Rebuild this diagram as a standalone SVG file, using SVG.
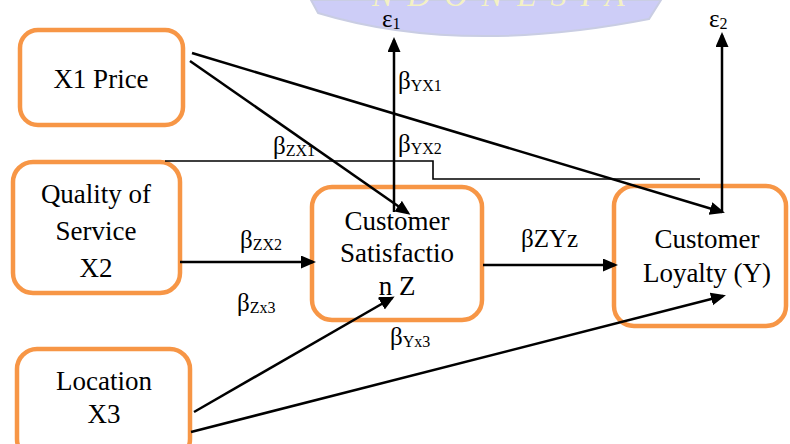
<svg xmlns="http://www.w3.org/2000/svg" width="790" height="444" viewBox="0 0 790 444">
  <defs>
    <marker id="head" markerUnits="userSpaceOnUse" markerWidth="16" markerHeight="14" refX="12" refY="6.5" orient="auto">
      <path d="M0,0 L15,6.5 L0,13 z" fill="#000"/>
    </marker>
  </defs>

  <rect width="790" height="444" fill="#ffffff"/>

  <!-- background seal, clipped at the top edge -->
  <g id="seal">
    <path d="M311,0 L318,13 Q460,56 649,19 L661,0 Z" fill="#cdcdf7" stroke="#c9cde3" stroke-width="2"/>
    <text font-family="serif" font-size="32" font-style="italic" fill="#f3f1c4" x="372" y="6" letter-spacing="14">NDONESIA</text>
  </g>

  <!-- nodes: white rounded boxes with orange outline -->
  <g fill="#ffffff" stroke="#f79646" stroke-width="4.5">
    <g id="x1-price">
      <rect x="20" y="30" width="163" height="95" rx="18"/>
      <text font-family="serif" font-size="27" text-anchor="middle" fill="#000" stroke="none" x="101" y="88">X1 Price</text>
    </g>
    <g id="x2-quality">
      <rect x="13" y="162" width="167" height="131" rx="20"/>
      <text font-family="serif" font-size="27" text-anchor="middle" fill="#000" stroke="none" x="96" y="203">Quality of</text>
      <text font-family="serif" font-size="27" text-anchor="middle" fill="#000" stroke="none" x="96" y="240">Service</text>
      <text font-family="serif" font-size="27" text-anchor="middle" fill="#000" stroke="none" x="96" y="277">X2</text>
    </g>
    <g id="z-satisfaction">
      <rect x="312" y="187" width="170" height="133" rx="20"/>
      <text font-family="serif" font-size="27" text-anchor="middle" fill="#000" stroke="none" x="397" y="230">Customer</text>
      <text font-family="serif" font-size="27" text-anchor="middle" fill="#000" stroke="none" x="397" y="262">Satisfactio</text>
      <text font-family="serif" font-size="27" text-anchor="middle" fill="#000" stroke="none" x="397" y="295"><tspan text-decoration="underline">n</tspan> Z</text>
    </g>
    <g id="y-loyalty">
      <rect x="614" y="186" width="172" height="140" rx="20"/>
      <text font-family="serif" font-size="27" text-anchor="middle" fill="#000" stroke="none" x="707" y="248">Customer</text>
      <text font-family="serif" font-size="27" text-anchor="middle" fill="#000" stroke="none" x="707" y="282">Loyalty (Y)</text>
    </g>
    <g id="x3-location">
      <rect x="17" y="349" width="173" height="110" rx="20"/>
      <text font-family="serif" font-size="27" text-anchor="middle" fill="#000" stroke="none" x="104" y="390">Location</text>
      <text font-family="serif" font-size="27" text-anchor="middle" fill="#000" stroke="none" x="104" y="423">X3</text>
    </g>
  </g>

  <!-- connectors -->
  <g id="connectors" stroke="#000" stroke-width="2.5" fill="none">
    <line marker-end="url(#head)" x1="190" y1="61" x2="408" y2="213"/>
    <line marker-end="url(#head)" x1="192" y1="53" x2="722" y2="212"/>
    <line marker-end="url(#head)" x1="180" y1="262" x2="313" y2="262"/>
    <line marker-end="url(#head)" x1="483" y1="265" x2="615" y2="265"/>
    <line marker-end="url(#head)" x1="194" y1="412" x2="392" y2="298"/>
    <line marker-end="url(#head)" x1="191" y1="432" x2="723" y2="296"/>
    <line marker-end="url(#head)" x1="394" y1="212" x2="394" y2="40"/>
    <line marker-end="url(#head)" x1="722" y1="212" x2="722" y2="35"/>
    <polyline stroke-width="1.6" points="165,161 433,161 433,179 700,179"/>
  </g>

  <!-- path coefficients -->
  <g id="coefficients">
    <text font-family="Times New Roman" font-size="25" x="273" y="154">&#946;<tspan font-size="16" dy="2">ZX1</tspan></text>
    <text font-family="Times New Roman" font-size="25" x="398" y="89">&#946;<tspan font-size="16" dy="2">YX1</tspan></text>
    <text font-family="Times New Roman" font-size="25" x="398" y="152">&#946;<tspan font-size="16" dy="2">YX2</tspan></text>
    <text font-family="Times New Roman" font-size="25" x="240" y="248">&#946;<tspan font-size="16" dy="2">ZX2</tspan></text>
    <text font-family="Times New Roman" font-size="25" x="237" y="311">&#946;<tspan font-size="16" dy="2">Zx3</tspan></text>
    <text font-family="Times New Roman" font-size="25" x="390" y="345">&#946;<tspan font-size="16" dy="2">Yx3</tspan></text>
    <text font-family="Times New Roman" font-size="25" x="521" y="247">&#946;ZYz</text>
    <text font-family="Times New Roman" font-size="25" x="382" y="27">&#949;<tspan font-size="16" dy="2">1</tspan></text>
    <text font-family="Times New Roman" font-size="25" x="709" y="27">&#949;<tspan font-size="16" dy="2">2</tspan></text>
  </g>
</svg>
